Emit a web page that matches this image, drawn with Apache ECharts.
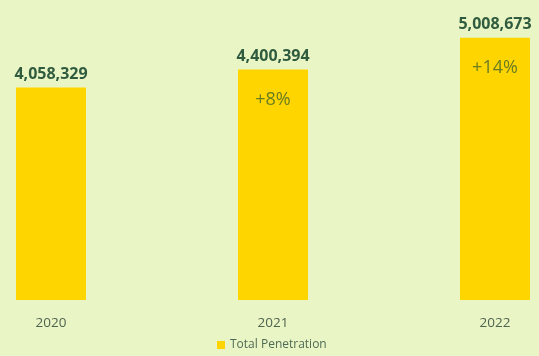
<!DOCTYPE html>
<html>
<head>
<meta charset="utf-8">
<script src="https://cdn.jsdelivr.net/npm/echarts@6/dist/echarts.min.js"></script>
<style>
  html, body { margin: 0; padding: 0; background: #EAF5C6; }
  #chart { width: 539px; height: 356px; }
</style>
</head>
<body>
<div id="chart"></div>
<script>
const years = ['2020', '2021', '2022'];
const totalPenetration = [4058329, 4400394, 5008673];
const growthLabels = ['', '+8%', '+14%'];

const fontFamily = '"Open Sans", Lato, sans-serif';
const chart = echarts.init(document.getElementById('chart'), null, { renderer: 'canvas' });

chart.setOption({
  backgroundColor: '#EAF5C6',
  animation: false,
  grid: { left: 51, right: 44, top: 12, bottom: 56, containLabel: false },
  legend: {
    data: ['Total Penetration'],
    bottom: 0,
    left: 212,
    icon: 'rect',
    itemWidth: 8,
    itemHeight: 8,
    itemGap: 4,
    textStyle: { color: '#4E6B55', fontSize: 12, fontFamily: fontFamily }
  },
  xAxis: {
    type: 'category',
    data: years,
    boundaryGap: false,
    axisLine: { show: false },
    axisTick: { show: false },
    axisLabel: { color: '#4F6450', fontSize: 13.5, margin: 16, fontFamily: fontFamily }
  },
  yAxis: {
    type: 'value',
    min: 0,
    max: 5500000,
    show: false,
    splitLine: { show: false }
  },
  series: [
    {
      name: 'Total Penetration',
      type: 'bar',
      data: totalPenetration,
      barWidth: 70,
      itemStyle: { color: '#FFD500' },
      label: {
        show: true,
        position: 'top',
        distance: 5,
        color: '#2F5B3E',
        fontSize: 16,
        fontWeight: 'bold',
        fontFamily: fontFamily,
        formatter: p => p.value.toLocaleString('en-US')
      }
    },
    {
      name: 'Growth',
      type: 'bar',
      data: totalPenetration,
      barWidth: 70,
      barGap: '-100%',
      silent: true,
      itemStyle: { color: 'rgba(0,0,0,0)' },
      label: {
        show: true,
        position: 'insideTop',
        distance: 21,
        color: '#6A7D22',
        fontSize: 18,
        fontFamily: fontFamily,
        formatter: p => growthLabels[p.dataIndex]
      }
    }
  ]
});
</script>
</body>
</html>
